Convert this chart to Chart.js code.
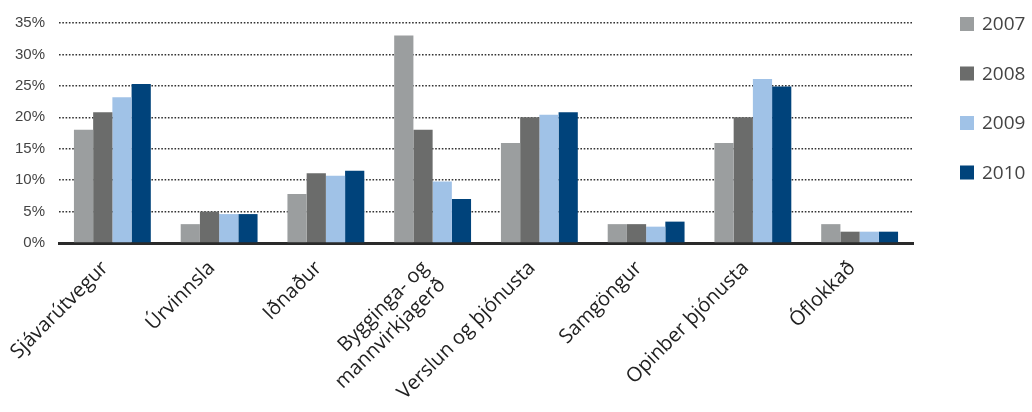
<!DOCTYPE html>
<html>
<head>
<meta charset="utf-8">
<script src="https://cdn.jsdelivr.net/npm/chart.js@4.4.0/dist/chart.umd.min.js"></script>
<style>
  html, body { margin: 0; padding: 0; background: #fff; }
  #wrap { width: 1032px; height: 412px; position: relative; }
</style>
</head>
<body>
<div id="wrap"><canvas id="chart"></canvas></div>
<script>
const categories = ['Sjávarútvegur', 'Úrvinnsla', 'Iðnaður', ['Bygginga- og', 'mannvirkjagerð'],
  'Verslun og þjónusta', 'Samgöngur', 'Opinber þjónusta', 'Óflokkað'];
const years = ['2007', '2008', '2009', '2010'];
const values2007 = [18.0, 3.0, 7.8, 33.0, 15.9, 3.0, 15.9, 3.0];
const values2008 = [20.8, 5.0, 11.1, 18.0, 20.0, 3.0, 20.0, 1.8];
const values2009 = [23.2, 4.6, 10.7, 9.8, 20.4, 2.6, 26.1, 1.8];
const values2010 = [25.3, 4.6, 11.5, 7.0, 20.8, 3.4, 24.9, 1.8];
const yTicks = [0, 5, 10, 15, 20, 25, 30, 35];

const colors = ['#9b9e9f', '#6b6c6b', '#a0c2e7', '#00437b'];
const FONT = '"Open Sans", sans-serif';

// legend drawn at the right of the plot
const sideLegend = {
  id: 'sideLegend',
  afterDraw(chart) {
    const ctx = chart.ctx;
    ctx.save();
    ctx.font = '19px ' + FONT;
    ctx.textBaseline = 'middle';
    chart.data.datasets.forEach((ds, i) => {
      const y = 24 + i * 49.5;
      ctx.fillStyle = ds.backgroundColor;
      ctx.fillRect(960, y - 7, 14, 14);
      ctx.fillStyle = '#444';
      ctx.fillText(ds.label, 982, y + 1);
    });
    ctx.restore();
  }
};

// trailing spaces push the rotated labels a bit down-left, like the original
const pad = (s) => s + '  ';

new Chart(document.getElementById('chart'), {
  type: 'bar',
  data: {
    labels: categories,
    datasets: [values2007, values2008, values2009, values2010].map((v, i) => ({
      label: years[i],
      data: v,
      backgroundColor: colors[i],
      borderWidth: 0,
      barPercentage: 1,
      categoryPercentage: 0.72
    }))
  },
  options: {
    responsive: true,
    maintainAspectRatio: false,
    animation: false,
    layout: { padding: { left: 15, right: 119, top: 1, bottom: 0 } },
    plugins: {
      legend: { display: false },
      tooltip: { enabled: false }
    },
    scales: {
      x: {
        grid: { display: false, drawTicks: false },
        border: { display: true, color: '#2a2a2a', width: 3 },
        afterFit: (scale) => {
          scale.height = 169;
          scale.paddingLeft = 0;
          scale.paddingRight = 0;
        },
        ticks: {
          color: '#222',
          font: { family: FONT, size: 20 },
          minRotation: 45,
          maxRotation: 45,
          autoSkip: false,
          padding: 6,
          callback: function (v) {
            const l = this.getLabelForValue(v);
            return Array.isArray(l) ? l.map(pad) : pad(l);
          }
        }
      },
      y: {
        min: 0,
        max: 35,
        afterBuildTicks: (axis) => { axis.ticks = yTicks.map(v => ({ value: v })); },
        afterFit: (scale) => { scale.width = 44; },
        grid: { color: '#333', lineWidth: 1.5, drawTicks: false },
        border: { display: false, dash: [1.6, 1.7] },
        ticks: {
          color: '#444',
          font: { family: '"Liberation Sans", sans-serif', size: 15 },
          padding: 14,
          callback: (v) => v + '%'
        }
      }
    }
  },
  plugins: [sideLegend]
});
</script>
</body>
</html>
